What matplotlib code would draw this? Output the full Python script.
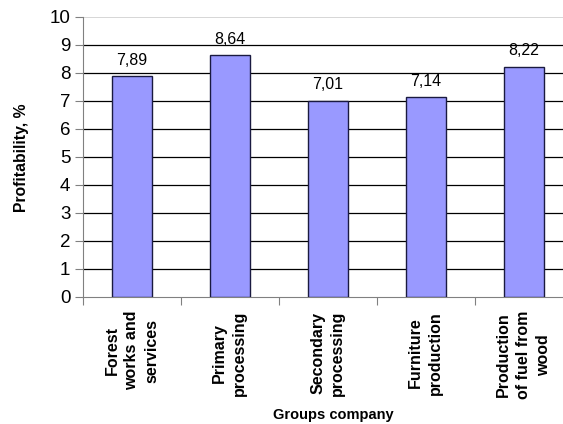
import matplotlib.pyplot as plt
import numpy as np

categories = [
    "Forest\nworks and\nservices",
    "Primary\nprocessing",
    "Secondary\nprocessing",
    "Furniture\nproduction",
    "Production\nof fuel from\nwood",
]
profitability = [7.89, 8.64, 7.01, 7.14, 8.22]
value_labels = ["7,89", "8,64", "7,01", "7,14", "8,22"]

plt.rcParams["font.family"] = ["Liberation Sans", "DejaVu Sans"]

fig = plt.figure(figsize=(5.63, 4.24), dpi=100)
ax = fig.add_axes([0.147, 0.300, 0.870, 0.660])

x = np.arange(len(categories))
bars = ax.bar(x, profitability, width=0.41, color="#9999ff",
              edgecolor="#1a1a40", linewidth=1.0, zorder=3)

for bar, lab in zip(bars, value_labels):
    ax.annotate(lab, (bar.get_x() + bar.get_width() / 2, bar.get_height()),
                xytext=(0, 6), textcoords="offset points",
                ha="center", va="bottom", fontsize=11.5)

ax.set_xlim(-0.5, len(categories) - 0.5)
ax.set_ylim(0, 10)
ax.set_yticks(range(0, 11))
ax.tick_params(axis="y", labelsize=13.5, length=6, color="#808080", pad=3)

# gridlines: black inside, light gray at the top
for v in range(1, 10):
    ax.axhline(v, color="black", linewidth=0.9, zorder=1)
ax.axhline(10, color="#d0d0d0", linewidth=1.2, zorder=1)

# category separators on the x axis
ax.set_xticks(np.arange(-0.5, len(categories)))
ax.set_xticklabels([])
ax.tick_params(axis="x", length=6, color="#808080", direction="out")

for xi, name in zip(x, categories):
    ax.text(xi, -0.5, name, rotation=90, ha="center", va="top",
            fontsize=11.5, fontweight="bold", linespacing=1.4,
            multialignment="center")

for side in ("top", "right"):
    ax.spines[side].set_visible(False)
ax.spines["left"].set_color("#808080")
ax.spines["bottom"].set_color("#808080")

fig.text(0.039, 0.628, "Profitability, %", rotation=90, ha="center",
         va="center", fontsize=11.3, fontweight="bold")
fig.text(0.592, 0.021, "Groups company", ha="center", va="center",
         fontsize=10.5, fontweight="bold")

fig.savefig("out.png", dpi=100)
